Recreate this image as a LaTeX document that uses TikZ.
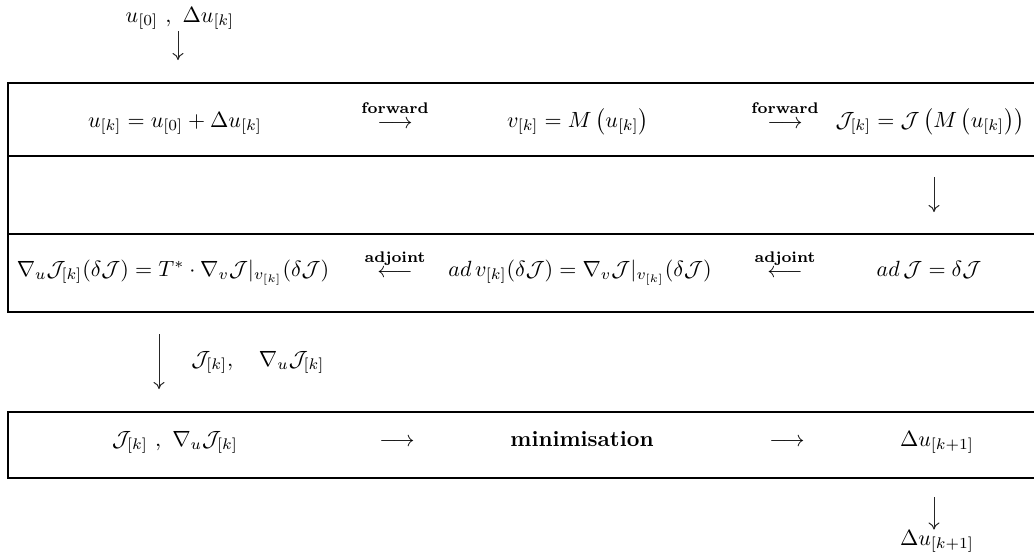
\documentclass[tikz,border=0pt]{standalone}
\usepackage{amsmath}
\usetikzlibrary{arrows.meta}
\tikzset{
  rulebar/.style={line width=1.35pt, line cap=rect},
  varrow/.style={-{To[length=3.2pt,width=5pt]}, line width=0.45pt, black!85},
  txt/.style={inner sep=0pt, anchor=base},
  arrlabel/.style={inner sep=0pt, anchor=base, font=\scriptsize\bfseries},
}
\begin{document}
\begin{tikzpicture}[x=0.4545pt,y=-0.4545pt]
\useasboundingbox (0,0) rectangle (1034,552);
% table rules
\coordinate (L1) at (8,83);  \coordinate (R1) at (1034,83);
\coordinate (L2) at (8,156); \coordinate (R2) at (1034,156);
\coordinate (L3) at (8,234); \coordinate (R3) at (1034,234);
\coordinate (L4) at (8,312); \coordinate (R4) at (1034,312);
\coordinate (L5) at (8,412); \coordinate (R5) at (1034,412);
\coordinate (L6) at (8,478); \coordinate (R6) at (1034,478);
\draw[rulebar] (L1) -- (R1);
\draw[rulebar] (L2) -- (R2);
\draw[rulebar] (L3) -- (R3);
\draw[rulebar] (L4) -- (R4);
\draw[rulebar] (L1) -- (L4);
\draw[rulebar] (L5) -- (R5);
\draw[rulebar] (L6) -- (R6);
\draw[rulebar] (L5) -- (L6);

% top input
\node[txt] (in) at (180,22) {$u_{[0]}\ ,\ \Delta u_{[k]}$};
\coordinate (a1e) at (178,60);
\draw[varrow] (in.south -| a1e) ++(0,1) -- (a1e);

% row 1
\node[txt] (r1a) at (175,127) {$u_{[k]} = u_{[0]} + \Delta u_{[k]}$};
\node[txt] (r1b) at (395,128) {$\longrightarrow$};
\node[arrlabel] (r1bl) at (395,113) {forward};
\node[txt] (r1c) at (578,127) {$v_{[k]} = M\left(u_{[k]}\right)$};
\node[txt] (r1d) at (785,128) {$\longrightarrow$};
\node[arrlabel] (r1dl) at (785,113) {forward};
\node[txt] (r1e) at (930,127) {$\mathcal{J}_{[k]} = \mathcal{J}\left(M\left(u_{[k]}\right)\right)$};

% row 2 arrow
\coordinate (a2s) at (934,177);
\coordinate (a2e) at (934,212);
\draw[varrow] (a2s) -- (a2e);

% row 3
\node[txt] (r3a) at (173,276) {$\nabla_{u}\mathcal{J}_{[k]}(\delta\mathcal{J}) = T^{*}\cdot\nabla_{v}\mathcal{J}|_{v_{[k]}}(\delta\mathcal{J})$};
\node[txt] (r3b) at (395,277) {$\longleftarrow$};
\node[arrlabel] (r3bl) at (395,262) {adjoint};
\node[txt] (r3c) at (580,276) {$ad\,v_{[k]}(\delta\mathcal{J}) = \nabla_{v}\mathcal{J}|_{v_{[k]}}(\delta\mathcal{J})$};
\node[txt] (r3d) at (785,277) {$\longleftarrow$};
\node[arrlabel] (r3dl) at (785,262) {adjoint};
\node[txt] (r3e) at (929,276) {$ad\,\mathcal{J} = \delta\mathcal{J}$};

% between boxes
\coordinate (a3s) at (159,334);
\coordinate (a3e) at (159,389);
\draw[varrow] (a3s) -- (a3e);
\node[txt] (mid) at (258,366) {$\mathcal{J}_{[k]},\quad \nabla_{u}\mathcal{J}_{[k]}$};

% row 5
\node[txt] (r5a) at (175,446) {$\mathcal{J}_{[k]}\ ,\ \nabla_{u}\mathcal{J}_{[k]}$};
\node[txt] (r5b) at (397,446) {$\longrightarrow$};
\node[txt] (r5c) at (582,446) {\textbf{minimisation}};
\node[txt] (r5d) at (787,446) {$\longrightarrow$};
\node[txt] (r5e) at (937,446) {$\Delta u_{[k+1]}$};

% output
\node[txt] (out) at (937,545) {$\Delta u_{[k+1]}$};
\coordinate (a4s) at (934,497);
\draw[varrow] (a4s) -- (out.north -| a4s);
\end{tikzpicture}
\end{document}
